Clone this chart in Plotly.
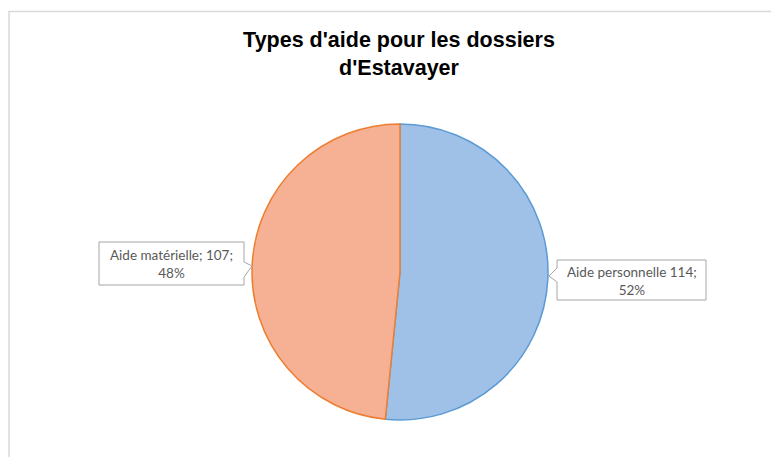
import plotly.graph_objects as go

W, H = 779, 457
OX, OY = 8, 8  # page offset of the figure (browser body margin)

categories = ["Aide personnelle", "Aide matérielle"]
values = [114, 107]
percents = ["52%", "48%"]
label_texts = ["Aide personnelle 114;<br>52%", "Aide matérielle; 107;<br>48%"]

fill_colors = ["#9fc0e7", "#f6b194"]
line_colors = ["#5b9bd5", "#ed7d31"]

def px(x):
    return (x - OX) / W

def py(y):
    return 1 - (y - OY) / H

cx, cy, r = 400, 272, 148

fig = go.Figure(go.Pie(
    labels=categories,
    values=values,
    sort=False,
    direction="clockwise",
    rotation=0,
    marker=dict(colors=fill_colors, line=dict(color=line_colors, width=1.5)),
    textinfo="none",
    hoverinfo="label+value+percent",
    showlegend=False,
    domain=dict(x=[px(cx - r), px(cx + r)], y=[py(cy + r), py(cy - r)]),
))

def path_from(points):
    return "M " + " L ".join(f"{px(x)} {py(y)}" for x, y in points) + " Z"

shapes = [
    # chart area border
    dict(type="rect", xref="paper", yref="paper",
         x0=px(9), x1=px(800), y0=py(470), y1=py(11.5),
         line=dict(color="#d9d9d9", width=1.5), fillcolor="rgba(0,0,0,0)", layer="below"),
    # right callout (Aide personnelle)
    dict(type="path", xref="paper", yref="paper",
         path=path_from([(557, 260), (706, 260), (706, 300), (557, 300), (557, 282), (549, 276), (557, 268)]),
         line=dict(color="#a6a6a6", width=1), fillcolor="white"),
    # left callout (Aide matérielle)
    dict(type="path", xref="paper", yref="paper",
         path=path_from([(99, 242), (244, 242), (244, 262), (252, 266), (244, 277), (244, 285), (99, 285)]),
         line=dict(color="#a6a6a6", width=1), fillcolor="white"),
]

annotations = [
    dict(text=label_texts[0], x=px(631.5), y=py(280.5), xref="paper", yref="paper",
         showarrow=False, align="center", xanchor="center", yanchor="middle",
         font=dict(family="Lato", size=13.5, color="#595959")),
    dict(text=label_texts[1], x=px(171.5), y=py(264), xref="paper", yref="paper",
         showarrow=False, align="center", xanchor="center", yanchor="middle",
         font=dict(family="Lato", size=13.5, color="#595959")),
]

fig.update_layout(
    width=W, height=H,
    margin=dict(l=0, r=0, t=0, b=0),
    paper_bgcolor="white",
    plot_bgcolor="white",
    title=dict(
        text="<b>Types d'aide pour les dossiers<br>d'Estavayer</b>",
        x=px(399), xanchor="center", y=py(47), yanchor="middle",
        font=dict(family="Liberation Sans", size=21.5, color="#000000"),
    ),
    shapes=shapes,
    annotations=annotations,
)

fig.write_html("out.html")
